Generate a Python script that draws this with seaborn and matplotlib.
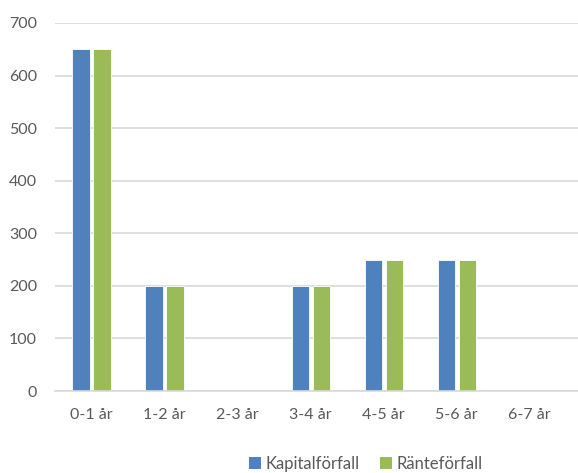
import pandas as pd
import matplotlib
matplotlib.use('Agg')
import matplotlib.pyplot as plt
import seaborn as sns
from matplotlib.patches import Patch

# Data
categories = ['0-1 år', '1-2 år', '2-3 år', '3-4 år', '4-5 år', '5-6 år', '6-7 år']
kapital = [650, 200, 0, 200, 250, 250, 0]
ranta = [650, 200, 0, 200, 250, 250, 0]
series = ['Kapitalförfall', 'Ränteförfall']
colors = ['#4F81BD', '#9BBB59']

df = pd.DataFrame({
    'Period': categories * 2,
    'Belopp': kapital + ranta,
    'Serie': [series[0]] * len(categories) + [series[1]] * len(categories),
})

sns.set_theme(style='white')
plt.rcParams['font.family'] = ['Lato', 'DejaVu Sans']

fig = plt.figure(figsize=(5.78, 4.73), dpi=100)
ax = fig.add_axes([55 / 578, 1 - 391 / 473, 1 - 55 / 578, (391 - 23) / 473])

sns.barplot(data=df, x='Period', y='Belopp', hue='Serie', palette=colors,
            width=0.575, gap=0.18, edgecolor='white', linewidth=0.6,
            saturation=1, legend=False, ax=ax)

ax.set_ylim(0, 700)
ax.set_xlim(-0.5, 6.66)
ax.set_yticks(range(0, 701, 100))
ax.yaxis.grid(True, color='#D9D9D9', linewidth=1.2)
ax.set_axisbelow(True)
for s in ['top', 'right', 'left']:
    ax.spines[s].set_visible(False)
ax.spines['bottom'].set_color('#D9D9D9')
ax.spines['bottom'].set_linewidth(1.2)
ax.set_xlabel('')
ax.set_ylabel('')
ax.tick_params(axis='y', length=0, pad=13, labelsize=11.5, labelcolor='#595959')
ax.tick_params(axis='x', length=0, pad=12, labelsize=11.5, labelcolor='#595959')

handles = [Patch(facecolor=c, edgecolor='none') for c in colors]
fig.legend(handles, series, loc='center', bbox_to_anchor=(366 / 578, 1 - 464 / 473),
           ncol=2, frameon=False, fontsize=12, handlelength=0.7, handleheight=0.7,
           handletextpad=0.3, columnspacing=1.2, labelcolor='#595959')

fig.savefig('out.png', dpi=100)
